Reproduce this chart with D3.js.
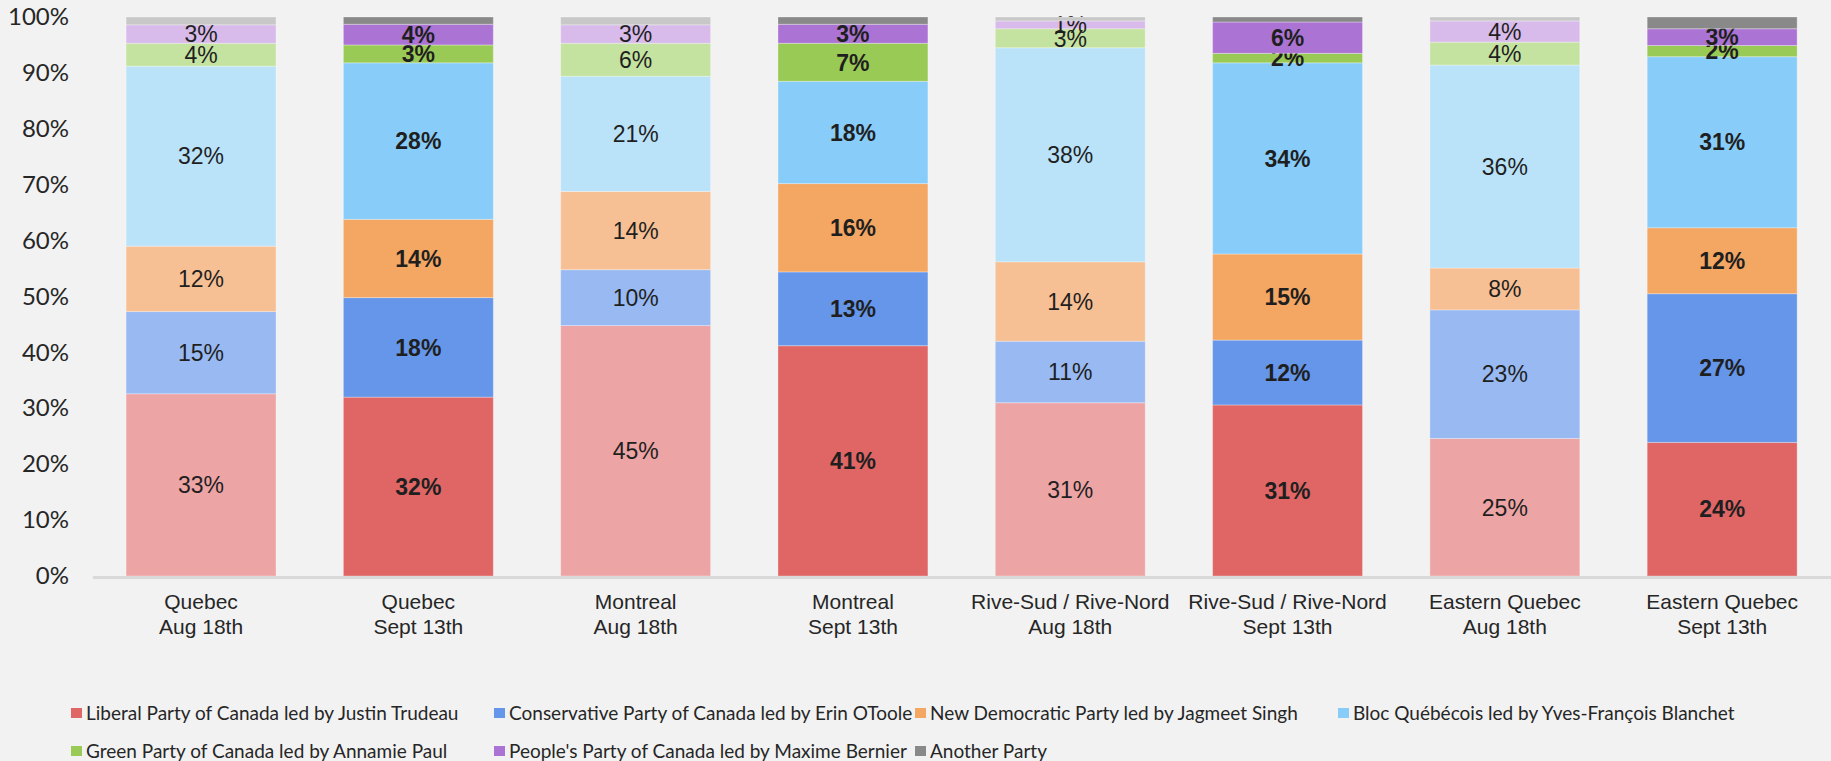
<!DOCTYPE html>
<html>
<head>
<meta charset="utf-8">
<script src="https://cdn.jsdelivr.net/npm/d3@7"></script>
<style>
  body { margin: 0; background: #f2f2f2; }
  svg { display: block; }
</style>
</head>
<body>
<svg id="chart" width="1831" height="761"></svg>
<script>
// regions and poll dates for each bar
var regions = ['Quebec', 'Quebec', 'Montreal', 'Montreal', 'Rive-Sud / Rive-Nord', 'Rive-Sud / Rive-Nord', 'Eastern Quebec', 'Eastern Quebec'];
var dates = ['Aug 18th', 'Sept 13th', 'Aug 18th', 'Sept 13th', 'Aug 18th', 'Sept 13th', 'Aug 18th', 'Sept 13th'];

var parties = [
    'Liberal Party of Canada led by Justin Trudeau',
    'Conservative Party of Canada led by Erin OToole',
    'New Democratic Party led by Jagmeet Singh',
    'Bloc Québécois led by Yves-François Blanchet',
    'Green Party of Canada led by Annamie Paul',
    "People's Party of Canada led by Maxime Bernier",
    'Another Party'
];

// share of vote (%) per party, one value per bar
var liberal      = [32.6, 32.0, 44.8, 41.2, 31.0, 30.6, 24.6, 23.9];
var conservative = [14.7, 17.8, 10.0, 13.2, 11.0, 11.6, 23.0, 26.6];
var ndp          = [11.7, 14.0, 14.0, 15.8, 14.2, 15.4, 7.5, 11.8];
var bloc         = [32.2, 28.0, 20.6, 18.3, 38.3, 34.2, 36.3, 30.6];
var green        = [4.1, 3.2, 5.9, 6.8, 3.4, 1.7, 4.1, 2.0];
var peoples      = [3.3, 3.7, 3.3, 3.4, 1.4, 5.6, 3.8, 3.0];
var another      = [1.4, 1.3, 1.4, 1.3, 0.7, 0.9, 0.7, 2.1];

var yTicks = [0, 10, 20, 30, 40, 50, 60, 70, 80, 90, 100];

// colours: strong for Sept, faded for Aug
var darkColors  = ['#e06666', '#6596ea', '#f4a663', '#88cdf9', '#9aca56', '#ab74d4', '#898989'];
var lightColors = ['#eda4a5', '#98b9f2', '#f7bf94', '#bae3fa', '#c5e3a0', '#d8bbea', '#c8c8c8'];

var series = [liberal, conservative, ndp, bloc, green, peoples, another];
var keys = parties.map(function(d, i) { return 'p' + i; });

var rows = regions.map(function(r, i) {
    var row = {idx: i, region: r, date: dates[i], sept: i % 2 === 1};
    series.forEach(function(s, k) { row[keys[k]] = s[i]; });
    return row;
});

var svg = d3.select('#chart');

var xScale = d3.scaleBand()
    .domain(rows.map(function(d) { return d.idx; }))
    .range([92.4, 1830.8])
    .paddingInner(0.31)
    .paddingOuter(0.155);

var yScale = d3.scaleLinear().domain([0, 100]).range([576, 17]);

var stacked = d3.stack().keys(keys)(rows);

// bars
var layer = svg.append('g').selectAll('g.layer')
    .data(stacked)
    .enter()
    .append('g')
    .attr('class', 'layer');

layer.selectAll('rect')
    .data(function(d) { return d.map(function(p) { p.k = d.index; return p; }); })
    .enter()
    .append('rect')
    .attr('x', function(d) { return xScale(d.data.idx); })
    .attr('width', xScale.bandwidth())
    .attr('y', function(d) { return yScale(d[1]); })
    .attr('height', function(d) { return yScale(d[0]) - yScale(d[1]); })
    .attr('fill', function(d) { return d.data.sept ? darkColors[d.k] : lightColors[d.k]; })
    .attr('stroke', 'rgba(255,255,255,0.3)')
    .attr('stroke-width', 1);

// value labels (no label for "Another Party"); small slices overlap like the original
layer.filter(function(d) { return d.index < 6; })
    .selectAll('text')
    .data(function(d) { return d; })
    .enter()
    .append('text')
    .attr('x', function(d) { return xScale(d.data.idx) + xScale.bandwidth() / 2; })
    .attr('y', function(d) { return (yScale(d[0]) + yScale(d[1])) / 2; })
    .attr('dy', '0.36em')
    .attr('text-anchor', 'middle')
    .style('font-family', '"Liberation Sans", Arial, sans-serif')
    .style('font-size', '23px')
    .style('font-weight', function(d) { return d.data.sept ? 'bold' : 'normal'; })
    .style('fill', '#1f1f1f')
    .text(function(d) { return Math.round(d[1] - d[0]) + '%'; });

// y axis
var yAxis = d3.axisLeft(yScale).tickValues(yTicks).tickSize(0).tickPadding(0)
    .tickFormat(function(d) { return d + '%'; });

var yG = svg.append('g')
    .attr('transform', 'translate(69,0)')
    .call(yAxis);
yG.select('.domain').remove();
yG.selectAll('text')
    .style('font-family', 'Lato, sans-serif')
    .style('font-size', '24px')
    .style('fill', '#262626');

// x axis baseline
var xAxis = d3.axisBottom(xScale).tickSize(0).tickFormat(function() { return ''; });
var xG = svg.append('g')
    .attr('transform', 'translate(0,577)')
    .call(xAxis);
xG.select('.domain').attr('stroke', '#d9d9d9').attr('stroke-width', 3);

var catLabel = svg.append('g').selectAll('text')
    .data(rows)
    .enter()
    .append('text')
    .attr('text-anchor', 'middle')
    .style('font-family', '"Liberation Sans", Arial, sans-serif')
    .style('font-size', '21px')
    .style('fill', '#262626');

catLabel.append('tspan')
    .attr('x', function(d) { return xScale(d.idx) + xScale.bandwidth() / 2; })
    .attr('y', 609)
    .text(function(d) { return d.region; });
catLabel.append('tspan')
    .attr('x', function(d) { return xScale(d.idx) + xScale.bandwidth() / 2; })
    .attr('y', 634)
    .text(function(d) { return d.date; });

// legend
var legendCols = [71, 494, 915, 1338];
var legend = svg.append('g').selectAll('g')
    .data(parties)
    .enter()
    .append('g')
    .attr('transform', function(d, i) {
        return 'translate(' + legendCols[i % 4] + ',' + (720 + Math.floor(i / 4) * 38) + ')';
    });

legend.append('rect')
    .attr('x', 0)
    .attr('y', -12)
    .attr('width', 11)
    .attr('height', 10)
    .attr('fill', function(d, i) { return darkColors[i]; });

legend.append('text')
    .attr('x', 15)
    .attr('y', 0)
    .style('font-family', 'Lato, sans-serif')
    .style('font-size', '19px')
    .style('fill', '#262626')
    .text(function(d) { return d; });
</script>
</body>
</html>
